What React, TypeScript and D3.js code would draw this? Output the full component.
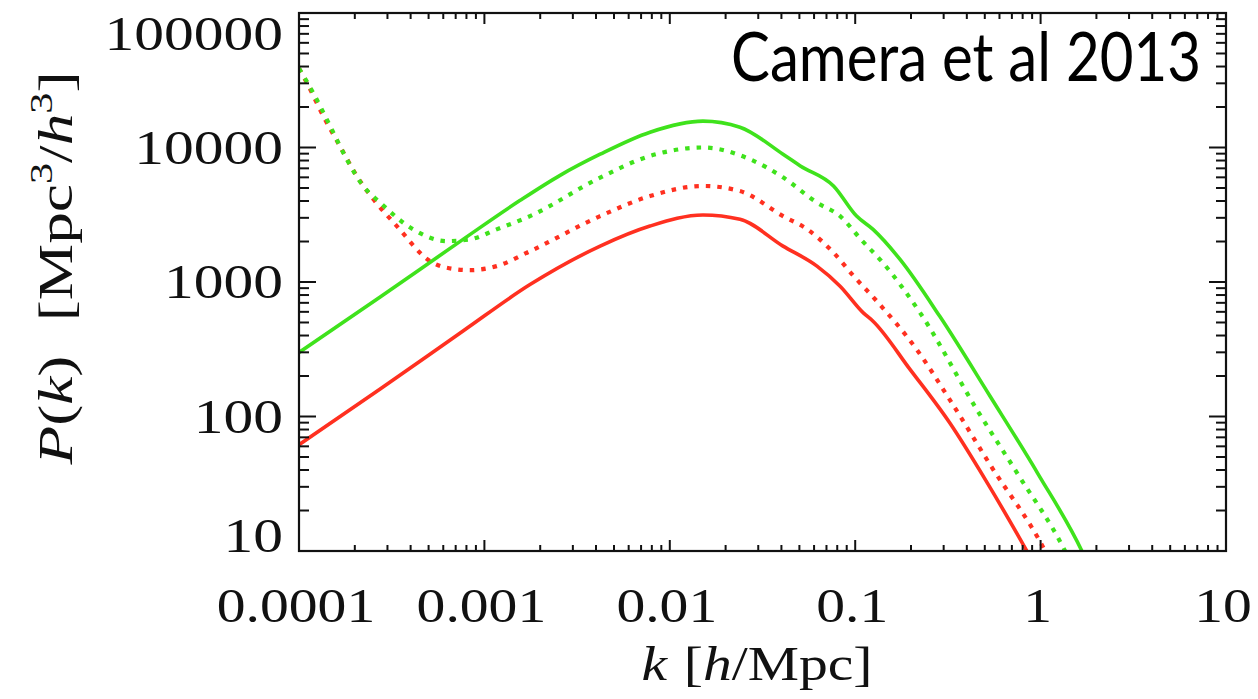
import React, { useLayoutEffect, useRef, useState } from 'react';
import * as d3 from 'd3';

// Canvas and plot frame
const W = 1258;
const H = 699;
const frame = { left: 299, right: 1226, top: 13, bottom: 551 };

// Axis domains and tick labels
const kDomain: [number, number] = [1e-4, 10];
const pDomain: [number, number] = [10, 1e5];
const xTickValues = [1e-4, 1e-3, 1e-2, 1e-1, 1, 10];
const xTickLabels = ['0.0001', '0.001', '0.01', '0.1', '1', '10'];
const yTickValues = [10, 100, 1000, 10000, 100000];
const yTickLabels = ['10', '100', '1000', '10000', '100000'];

// Power spectra P(k) as [k, P] pairs
const greenSolid: [number, number][] = [
  [1.0e-4, 299], [2.74e-4, 773], [7.67e-4, 2075], [1.56e-3, 4046], [2.56e-3, 6210],
  [4.21e-3, 8913], [7.82e-3, 13000], [0.0151, 15700], [0.0239, 14150], [0.0408, 8913],
  [0.0506, 7295], [0.0764, 5176], [0.1017, 3090], [0.1248, 2459], [0.1745, 1472],
  [0.2865, 553], [0.533, 142], [0.968, 37.5], [1.67, 10], [2.09, 5.0],
];

const redSolid: [number, number][] = [
  [1.0e-4, 61.7], [2.74e-4, 160], [7.67e-4, 432], [1.762e-3, 957], [4.21e-3, 1849],
  [7.82e-3, 2606], [0.0151, 3148], [0.0239, 2924], [0.0408, 1849], [0.0622, 1312],
  [0.0829, 931], [0.1106, 590], [0.1248, 511], [0.198, 223], [0.324, 89.3],
  [0.508, 33.2], [0.842, 10], [1.06, 5.6],
];

const greenDotted: [number, number][] = [
  [1.0e-4, 38700], [1.19e-4, 25640], [1.47e-4, 14490], [1.81e-4, 8170], [2.22e-4, 5176],
  [2.74e-4, 3890], [4.13e-4, 2461], [6.26e-4, 2014], [8.36e-4, 2075], [1.164e-3, 2461],
  [1.762e-3, 3090], [4.21e-3, 5970], [7.82e-3, 8650], [0.0151, 10000], [0.0271, 8170],
  [0.0408, 5998], [0.0622, 3890], [0.0829, 3090], [0.1073, 2075], [0.141, 1390],
  [0.224, 590], [0.454, 112], [0.746, 38.1], [1.355, 10], [1.74, 4.8],
];

const redDotted: [number, number][] = [
  [1.0e-4, 38700], [1.10e-4, 30480], [1.35e-4, 17180], [1.66e-4, 10280], [2.05e-4, 6140],
  [2.52e-4, 4121], [3.37e-4, 2606], [5.09e-4, 1429], [6.26e-4, 1276], [8.36e-4, 1225],
  [1.164e-3, 1312], [1.762e-3, 1694], [4.21e-3, 3090], [7.82e-3, 4355], [0.0151, 5176],
  [0.0239, 4744], [0.0408, 3090], [0.0553, 2461], [0.0764, 1652], [0.0982, 1104],
  [0.1284, 741], [0.215, 314], [0.324, 133], [0.533, 44], [1.057, 10], [1.33, 5.2],
];

const GREEN = '#3fe21c';
const RED = '#ff3020';
const SERIF = '"Liberation Serif", "Times New Roman", serif';
const CITATION = 'Camera et al 2013';

const x = d3.scaleLog().domain(kDomain).range([frame.left, frame.right]);
const y = d3.scaleLog().domain(pDomain).range([frame.bottom, frame.top]);

const line = d3
  .line<[number, number]>()
  .x((d) => x(d[0]))
  .y((d) => y(d[1]))
  .curve(d3.curveMonotoneX);

function minorTicks(lo: number, hi: number): number[] {
  const out: number[] = [];
  for (let d = lo; d < hi * 0.999; d *= 10) {
    for (let m = 2; m <= 9; m++) out.push(d * m);
  }
  return out;
}

const xMinor = minorTicks(1e-4, 10);
const yMinor = minorTicks(10, 1e5);

const Y_MAJOR = 17;
const Y_MINOR = 10;
const X_MAJOR = 11;
const X_MINOR = 6;
const X_LABEL_SCALE = 1.2;
const Y_LABEL_SCALE = 1.24;

// citation box: left edge and target width
const CITE_X = 731;
const CITE_W = 470;

export default function App() {
  const citeRef = useRef<SVGTextElement>(null);
  const [citeScale, setCiteScale] = useState(0.87);

  useLayoutEffect(() => {
    const el = citeRef.current;
    if (el) {
      const w = el.getComputedTextLength();
      if (w > 0) setCiteScale(CITE_W / w);
    }
  }, []);

  const series = [
    { data: redSolid, color: RED, dash: undefined, width: 3.6 },
    { data: redDotted, color: RED, dash: '4.5 7', width: 4.2 },
    { data: greenSolid, color: GREEN, dash: undefined, width: 3.6 },
    { data: greenDotted, color: GREEN, dash: '4.5 7', width: 4.2 },
  ];

  return (
    <svg
      width={W}
      height={H}
      viewBox={`0 0 ${W} ${H}`}
      style={{ position: 'absolute', left: 0, top: 0, background: '#fff' }}
    >
      <defs>
        <clipPath id="plot-clip">
          <rect
            x={frame.left}
            y={frame.top}
            width={frame.right - frame.left}
            height={frame.bottom - frame.top}
          />
        </clipPath>
      </defs>
      <rect x={0} y={0} width={W} height={H} fill="#fff" />

      {/* curves */}
      <g clipPath="url(#plot-clip)">
        {series.map((s, i) => (
          <path
            key={i}
            d={line(s.data) || ''}
            fill="none"
            stroke={s.color}
            strokeWidth={s.width}
            strokeDasharray={s.dash}
            strokeLinecap="butt"
            strokeLinejoin="round"
          />
        ))}
      </g>

      {/* ticks */}
      <g stroke="#111" strokeWidth={2}>
        {xTickValues.map((v) => (
          <g key={`xM${v}`}>
            <line x1={x(v)} x2={x(v)} y1={frame.bottom} y2={frame.bottom - X_MAJOR} />
            <line x1={x(v)} x2={x(v)} y1={frame.top} y2={frame.top + X_MAJOR} />
          </g>
        ))}
        {xMinor.map((v) => (
          <g key={`xm${v}`}>
            <line x1={x(v)} x2={x(v)} y1={frame.bottom} y2={frame.bottom - X_MINOR} />
            <line x1={x(v)} x2={x(v)} y1={frame.top} y2={frame.top + X_MINOR} />
          </g>
        ))}
        {yTickValues.map((v) => (
          <g key={`yM${v}`}>
            <line x1={frame.left} x2={frame.left + Y_MAJOR} y1={y(v)} y2={y(v)} />
            <line x1={frame.right} x2={frame.right - Y_MAJOR} y1={y(v)} y2={y(v)} />
          </g>
        ))}
        {yMinor.map((v) => (
          <g key={`ym${v}`}>
            <line x1={frame.left} x2={frame.left + Y_MINOR} y1={y(v)} y2={y(v)} />
            <line x1={frame.right} x2={frame.right - Y_MINOR} y1={y(v)} y2={y(v)} />
          </g>
        ))}
      </g>

      {/* frame */}
      <rect
        x={frame.left}
        y={frame.top}
        width={frame.right - frame.left}
        height={frame.bottom - frame.top}
        fill="none"
        stroke="#111"
        strokeWidth={2.2}
      />

      {/* tick labels */}
      <g fontFamily={SERIF} fontSize={48} fill="#111">
        {xTickValues.map((v, i) => (
          <text
            key={`xl${v}`}
            transform={`translate(${x(v) - 3},622) scale(${X_LABEL_SCALE},1)`}
            textAnchor="middle"
          >
            {xTickLabels[i]}
          </text>
        ))}
        {yTickValues.map((v, i) => {
          const base = Math.min(Math.max(y(v) + 16, frame.top + 37), frame.bottom + 1);
          return (
            <text
              key={`yl${v}`}
              transform={`translate(283,${base}) scale(${Y_LABEL_SCALE},1)`}
              textAnchor="end"
            >
              {yTickLabels[i]}
            </text>
          );
        })}
      </g>

      {/* axis titles */}
      <g fontFamily={SERIF} fontSize={48} fill="#111">
        <text transform={`translate(757,680) scale(${X_LABEL_SCALE},1)`} textAnchor="middle">
          <tspan fontStyle="italic">k</tspan>
          <tspan dx={14}>[</tspan>
          <tspan fontStyle="italic">h</tspan>
          <tspan>/Mpc]</tspan>
        </text>
        <text transform="translate(72,268) rotate(-90) scale(1.32,1)" textAnchor="middle">
          <tspan fontStyle="italic">P</tspan>
          <tspan>(</tspan>
          <tspan fontStyle="italic">k</tspan>
          <tspan>)</tspan>
          <tspan dx={26}>[Mpc</tspan>
          <tspan fontSize={32} dy={-20}>3</tspan>
          <tspan dy={20}>/</tspan>
          <tspan fontStyle="italic">h</tspan>
          <tspan fontSize={32} dy={-20}>3</tspan>
          <tspan dy={20}>]</tspan>
        </text>
      </g>

      {/* citation */}
      <text
        ref={citeRef}
        transform={`translate(${CITE_X},81) scale(${citeScale},1)`}
        fontFamily='Lato, "Open Sans", sans-serif'
        fontSize={68}
        fill="#000"
      >
        {CITATION}
      </text>
    </svg>
  );
}
